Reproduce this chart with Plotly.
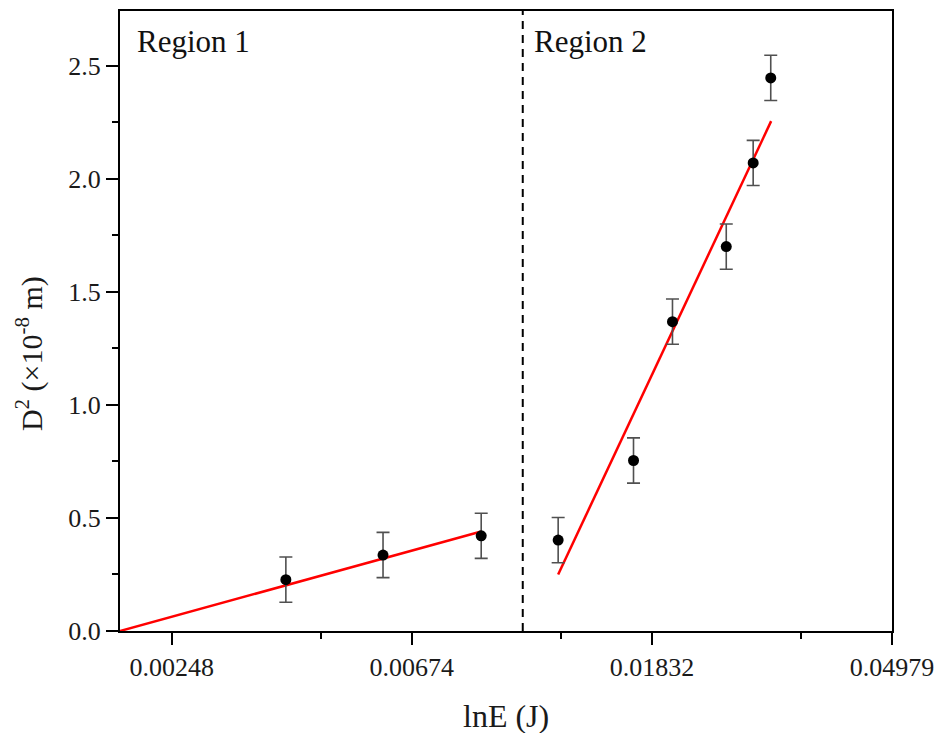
import math
import plotly.graph_objects as go

# Impact energy E (J) and squared crater diameter D^2 (x1e-8 m)
energy = [0.00399, 0.00598, 0.00900, 0.01240, 0.01697, 0.01996, 0.02497, 0.02793, 0.03005]
d_squared = [0.227, 0.336, 0.421, 0.402, 0.754, 1.368, 1.700, 2.070, 2.446]
d_error = [0.10, 0.10, 0.10, 0.10, 0.10, 0.10, 0.10, 0.10, 0.10]

# Linear fits in lnE for the two regions (end points)
fit1_energy = [0.00200, 0.00900]
fit1_d2 = [0.0, 0.440]
fit2_energy = [0.01240, 0.03010]
fit2_d2 = [0.250, 2.255]

# Boundary between regions
boundary_energy = 0.01070

x_tickvals = [0.00248, 0.00674, 0.01832, 0.04979]
x_ticktext = ["0.00248", "0.00674", "0.01832", "0.04979"]
x_minor = [0.00461, 0.01253, 0.034055]
y_tickvals = [0.0, 0.5, 1.0, 1.5, 2.0, 2.5]
y_ticktext = ["0.0", "0.5", "1.0", "1.5", "2.0", "2.5"]

x_min, x_max = 0.00200, 0.04979
y_min, y_max = 0.0, 2.742

FONT = "Liberation Serif"

fig = go.Figure()

fig.add_trace(go.Scatter(
    x=[boundary_energy, boundary_energy], y=[y_min, y_max],
    mode="lines", line=dict(color="black", width=2, dash="8px,6px"),
    hoverinfo="skip", showlegend=False,
))

fig.add_trace(go.Scatter(
    x=fit1_energy, y=fit1_d2, mode="lines",
    line=dict(color="#ff0000", width=2.5), showlegend=False,
))
fig.add_trace(go.Scatter(
    x=fit2_energy, y=fit2_d2, mode="lines",
    line=dict(color="#ff0000", width=2.5), showlegend=False,
))

fig.add_trace(go.Scatter(
    x=energy, y=d_squared, mode="markers",
    marker=dict(color="black", size=11),
    error_y=dict(type="data", array=d_error, visible=True,
                 color="#505050", thickness=1.6, width=6.5),
    showlegend=False,
))

fig.update_xaxes(
    type="log",
    range=[math.log10(x_min), math.log10(x_max)],
    tickmode="array", tickvals=x_tickvals, ticktext=x_ticktext,
    ticks="outside", ticklen=12, tickwidth=2, tickcolor="black",
    minor=dict(tickmode="array", tickvals=x_minor, ticks="outside",
               ticklen=6, tickwidth=2, tickcolor="black", showgrid=False),
    showline=True, linewidth=2, linecolor="black", mirror=True,
    showgrid=False, zeroline=False,
    tickfont=dict(family=FONT, size=26, color="#1a1a1a"),
)
fig.update_yaxes(
    range=[y_min, y_max],
    tickmode="array", tickvals=y_tickvals, ticktext=y_ticktext,
    ticks="outside", ticklen=12, tickwidth=2, tickcolor="black",
    minor=dict(dtick=0.25, ticks="outside", ticklen=6, tickwidth=2,
               tickcolor="black", showgrid=False),
    showline=True, linewidth=2, linecolor="black", mirror=True,
    showgrid=False, zeroline=False,
    tickfont=dict(family=FONT, size=26, color="#1a1a1a"),
)

fig.add_annotation(
    text="Region 1", xref="paper", yref="paper", x=0.0194, y=0.982,
    xanchor="left", yanchor="top", showarrow=False,
    font=dict(family=FONT, size=31, color="#111"),
)
fig.add_annotation(
    text="Region 2", xref="paper", yref="paper", x=0.5336, y=0.982,
    xanchor="left", yanchor="top", showarrow=False,
    font=dict(family=FONT, size=31, color="#111"),
)
fig.add_annotation(
    text="lnE (J)", xref="paper", yref="paper", x=0.5, y=-0.137,
    xanchor="center", yanchor="middle", showarrow=False,
    font=dict(family=FONT, size=32, color="#1a1a1a"),
)
fig.add_annotation(
    text="D<sup>2</sup> (×10<sup>-8</sup> m)", xref="paper", yref="paper",
    x=-0.1163, y=0.447, xanchor="center", yanchor="middle",
    textangle=-90, showarrow=False,
    font=dict(family=FONT, size=30, color="#1a1a1a"),
)

fig.update_layout(
    width=943, height=733,
    margin=dict(l=120, r=49, t=9, b=101.5),
    paper_bgcolor="white", plot_bgcolor="white",
)

fig.write_html("out.html")
